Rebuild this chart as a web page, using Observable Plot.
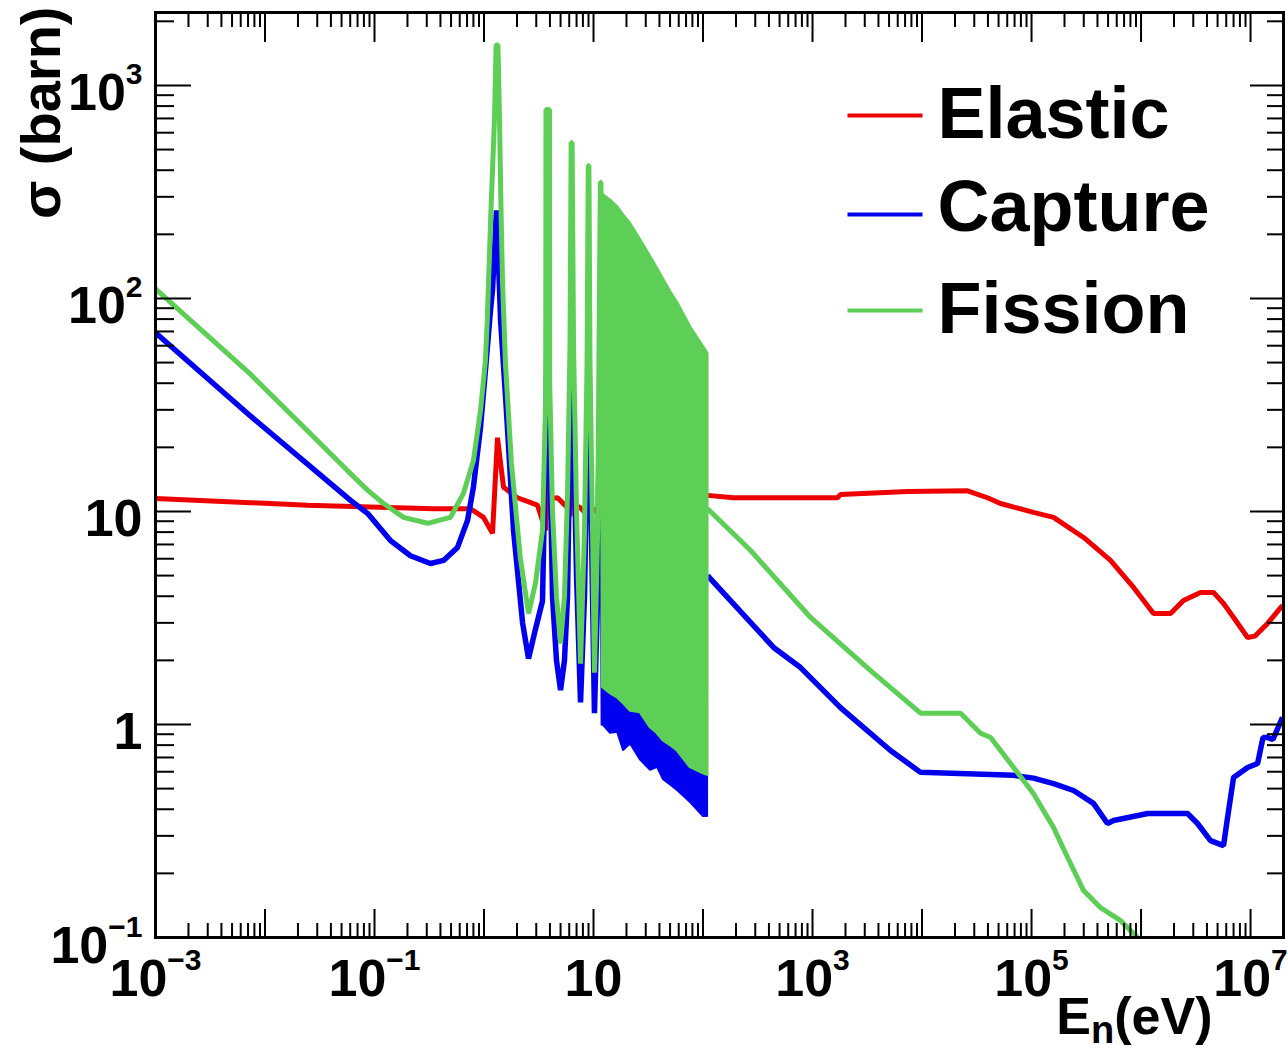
<!DOCTYPE html>
<html>
<head>
<meta charset="utf-8">
<script src="https://cdn.jsdelivr.net/npm/d3@7"></script>
<script src="https://cdn.jsdelivr.net/npm/@observablehq/plot@0.6"></script>
<style>
  html, body { margin: 0; padding: 0; background: #fff; }
  #chart svg { display: block; }
</style>
</head>
<body>
<div id="chart"></div>
<script>
// Neutron-induced cross sections versus incident energy (log–log).

const seriesNames = ["Elastic", "Capture", "Fission"];
const seriesColors = ["#ee0000", "#0000ee", "#5dcf56"];

// Elastic scattering
const elasticE = [0.001, 0.0244, 0.346, 0.753, 0.989, 1.196, 1.328, 1.507, 2.02, 3.08,
  3.65, 3.88, 4.1, 4.69, 5.79, 6.1, 6.3, 6.6, 7.6, 8.8, 9.0, 9.3, 11.3, 11.6, 12.0, 30, 110,
  190, 1690, 1800, 7380, 26000, 39600, 52100, 104000, 159000, 299000, 526000, 855000,
  1.30e6, 1.86e6, 2.44e6, 3.49e6, 4.59e6, 5.67e6, 7.0e6, 9.4e6, 1.1e7, 1.43e7, 1.96e7];
const elasticS = [11.5, 10.7, 10.3, 10.3, 9.38, 7.89, 22.2, 13.0, 11.6, 10.7,
  8.15, 20, 11.5, 11.6, 10.4, 9.5, 14, 10.8, 10.4, 9.6, 13, 10.5, 9.8, 14, 11, 11.5, 11.9,
  11.6, 11.6, 12.0, 12.4, 12.5, 11.6, 10.9, 9.9, 9.38, 7.55, 5.89, 4.40,
  3.32, 3.32, 3.82, 4.17, 4.17, 3.70, 3.18, 2.56, 2.6, 2.98, 3.62];

// Radiative capture (null marks the dense resonance comb, drawn as a band)
const captureE = [0.001, 0.0074, 0.060, 0.0863, 0.140, 0.213, 0.324, 0.427, 0.573, 0.707,
  0.80, 0.929, 1.03, 1.146, 1.196,
  1.30, 1.386, 1.415, 1.60, 1.86, 2.25, 2.55, 2.95, 3.42, 3.68, 3.80, 3.96, 4.22, 4.59,
  5.00, 5.43, 5.79, 6.10, 6.30, 6.57, 7.0, 7.61, 8.27, 8.73, 9.00, 9.29, 9.80, 10.2, 10.9,
  11.2, 11.6, 12.0, 12.3, 50,
  110, 441, 777, 1800, 5150, 9690, 68600, 104000, 159000, 242000, 368000, 494000, 561000,
  1.15e6, 2.66e6, 3.28e6, 4.31e6, 5.67e6, 6.17e6, 7.0e6, 9.4e6, 1.16e7, 1.3e7, 1.41e7,
  1.6e7, 1.96e7];
const captureS = [69, 28, 11.3, 9.8, 7.3, 6.2, 5.70, 5.89, 6.78, 9.08,
  13.0, 24.8, 45.9, 88, 110,
  259, 110, 80, 30, 8.15, 3.0, 2.04, 2.8, 3.8, 25, 120, 25, 4, 2.0,
  1.45, 2.0, 4, 25, 90, 25, 5, 1.27, 4, 20, 70, 20, 4, 1.13, 4,
  20, 55, 20, 0.99, null,
  5.0, 2.30, 1.85, 1.20, 0.755, 0.596, 0.577, 0.56, 0.528, 0.49, 0.426, 0.343, 0.354,
  0.382, 0.382, 0.343, 0.285, 0.270, 0.366, 0.564, 0.628, 0.656, 0.869, 0.869,
  0.85, 1.08];

// Fission
const fissionE = [0.001, 0.0074, 0.060, 0.0863, 0.121, 0.184, 0.305, 0.494, 0.650, 0.80,
  0.929, 1.03, 1.07, 1.157, 1.247,
  1.29, 1.34, 1.386, 1.43, 1.476, 1.57, 1.78, 2.15, 2.55, 2.95, 3.42, 3.66, 3.68, 3.96, 3.98,
  4.22, 4.59, 5.00, 5.43, 5.79, 6.10, 6.25, 6.38, 6.57, 7.0, 7.61, 8.27, 8.73, 8.95, 9.08,
  9.29, 9.80, 10.2, 10.9, 11.2, 11.55, 11.7, 12.0, 12.3, 50,
  110, 272, 959, 3390, 9690, 22500, 34200, 42300, 68600, 104000, 159000, 213000, 299000,
  427000, 650000, 930000];
const fissionS = [111, 44, 15.1, 12.6, 10.9, 9.38, 8.8, 9.38, 12.2, 17.3,
  29.8, 51, 78, 259, 700,
  1550, 1550, 700, 259, 120, 49.5, 16.8, 6.0, 3.32, 4.6, 8.15, 34, 771, 771, 40,
  10, 4.0, 2.40, 4.0, 12, 60, 540, 540, 60, 10, 1.93, 8, 50, 421, 421,
  50, 8, 1.75, 8, 50, 351, 351, 50, 1.49, null,
  10.3, 6.56, 3.18, 1.79, 1.13, 1.13, 0.91, 0.869, 0.628, 0.474, 0.328, 0.238, 0.166,
  0.138, 0.120, 0.100];

// Unresolved resonance comb, 12–110 eV: envelopes of the oscillating curves
const combE = [12.3, 14.3, 16.6, 18.8, 21.8, 26.9, 33.2, 38.4, 43.6, 50.5, 58.5, 76.9, 101, 110];
const combFissionHi = [305, 288, 268, 245, 223, 187, 156, 137, 122, 107, 95, 73, 59, 55];
const combFissionLo = [1.49, 1.40, 1.34, 1.26, 1.16, 1.14, 0.97, 0.91, 0.84, 0.80, 0.755, 0.63, 0.59, 0.58];
const combCaptureLo = [0.99, 0.91, 0.92, 0.755, 0.81, 0.68, 0.61, 0.63, 0.55, 0.52, 0.49, 0.43, 0.37, 0.37];

// Axis tick labels
const xLabelValues = [1e-3, 1e-1, 10, 1e3, 1e5, 1e7];
const xLabelText = ["10^{−3}", "10^{−1}", "10", "10^{3}", "10^{5}", "10^{7}"];
const yLabelValues = [0.1, 1, 10, 100, 1000];
const yLabelText = ["10^{−1}", "1", "10", "10^{2}", "10^{3}"];
const xTitle = "E_{n}(eV)";
const yTitle = "σ (barn)";

// Layout
const W = 1288, H = 1050;
const M = {top: 12, right: 5, bottom: 113, left: 155};
const FW = W - M.left - M.right;
const FH = H - M.top - M.bottom;
const FONT = "'Liberation Sans', Arial, Helvetica, sans-serif";

const rows = (E, S) => E.map((e, i) => ({E: e, s: S[i]}));
const comb = combE.map((e, i) => ({E: e, fHi: combFissionHi[i], fLo: combFissionLo[i], cLo: combCaptureLo[i]}));

const majorX = d3.range(-3, 8).map(p => Math.pow(10, p));
const minorX = d3.range(-3, 8).flatMap(p => d3.range(2, 10).map(k => k * Math.pow(10, p))).filter(v => v <= 2e7);
const majorY = d3.range(-1, 4).map(p => Math.pow(10, p));
const minorY = d3.range(-1, 4).flatMap(p => d3.range(2, 10).map(k => k * Math.pow(10, p))).filter(v => v <= 2200);

const lineOpts = {x: "E", y: "s", strokeWidth: 5, strokeLinejoin: "bevel", strokeLinecap: "butt"};
const tick = {stroke: "black", strokeWidth: 2};

const legendLineY = [115, 214, 310];
const legendBaseY = [137, 230, 332];

const svg = Plot.plot({
  width: W,
  height: H,
  marginTop: M.top,
  marginRight: M.right,
  marginBottom: M.bottom,
  marginLeft: M.left,
  style: {background: "white", fontFamily: FONT, fontWeight: "bold", color: "black"},
  x: {type: "log", domain: [1e-3, 2e7], axis: null},
  y: {type: "log", domain: [0.1, 2200], axis: null},
  marks: [
    Plot.line(rows(elasticE, elasticS), {...lineOpts, stroke: seriesColors[0]}),
    Plot.areaY(comb, {x: "E", y1: "cLo", y2: "fLo", fill: seriesColors[1], stroke: seriesColors[1], strokeWidth: 2}),
    Plot.line(rows(captureE, captureS), {...lineOpts, stroke: seriesColors[1], strokeWidth: 5.5}),
    Plot.areaY(comb, {x: "E", y1: "fLo", y2: "fHi", fill: seriesColors[2], stroke: seriesColors[2], strokeWidth: 3}),
    Plot.line(rows(fissionE, fissionS), {...lineOpts, stroke: seriesColors[2]}),

    // ticks drawn inside the frame on all four sides
    Plot.ruleX(majorX, {...tick, insetTop: FH - 28}),
    Plot.ruleX(minorX, {...tick, insetTop: FH - 14}),
    Plot.ruleX(majorX, {...tick, insetBottom: FH - 30}),
    Plot.ruleX(minorX, {...tick, insetBottom: FH - 15}),
    Plot.ruleY(majorY, {...tick, insetRight: FW - 36}),
    Plot.ruleY(minorY, {...tick, insetRight: FW - 19}),
    Plot.ruleY(majorY, {...tick, insetLeft: FW - 33}),
    Plot.ruleY(minorY, {...tick, insetLeft: FW - 16}),
    Plot.frame({stroke: "black", strokeWidth: 3}),

    // tick labels
    Plot.text(xLabelValues, {x: d => d, text: (d, i) => xLabelText[i], frameAnchor: "bottom",
      lineAnchor: "bottom", textAnchor: "middle", dy: 58, fontSize: 52, fontWeight: "bold"}),
    Plot.text(yLabelValues, {y: d => d, text: (d, i) => yLabelText[i], frameAnchor: "left",
      lineAnchor: "bottom", textAnchor: "end", dx: -13, dy: 25, fontSize: 52, fontWeight: "bold"}),

    // axis titles
    Plot.text([xTitle], {text: d => d, frameAnchor: "bottom-left", lineAnchor: "bottom", textAnchor: "end",
      dx: 1212 - M.left, dy: 96, fontSize: 52, fontWeight: "bold"}),
    Plot.text([yTitle], {text: d => d, frameAnchor: "top-left", lineAnchor: "bottom", textAnchor: "end",
      rotate: -90, dx: 59 - M.left, dy: -6, fontSize: 56, fontWeight: "bold"}),

    // legend
    ...seriesNames.flatMap((name, i) => [
      Plot.frame({fill: seriesColors[i], stroke: "none",
        insetLeft: 847 - M.left, insetRight: (W - M.right) - 922,
        insetTop: legendLineY[i] - 2 - M.top, insetBottom: (H - M.bottom) - (legendLineY[i] + 2)}),
      Plot.text([name], {text: d => d, frameAnchor: "top-left", lineAnchor: "bottom", textAnchor: "start",
        dx: 937 - M.left, dy: legendBaseY[i] - M.top, fontSize: 72, fontWeight: "bold"})
    ])
  ]
});

// Render "^{…}" as superscript and "_{…}" as subscript tspans.
function richText(el) {
  const raw = el.textContent;
  if (!/[\^_]\{/.test(raw)) return;
  const re = /([\^_])\{([^}]*)\}/g;
  el.textContent = "";
  const sel = d3.select(el);
  let last = 0, shift = 0, m;
  while ((m = re.exec(raw))) {
    if (m.index > last) {
      sel.append("tspan").attr("dy", -shift).text(raw.slice(last, m.index));
      shift = 0;
    }
    const sup = m[1] === "^";
    const d = sup ? -26 : 9;
    sel.append("tspan").attr("dy", d - shift).attr("font-size", sup ? 30 : 38).text(m[2]);
    shift = d;
    last = re.lastIndex;
  }
  if (last < raw.length) sel.append("tspan").attr("dy", -shift).text(raw.slice(last));
}
d3.select(svg).selectAll("text").each(function () { richText(this); });

document.getElementById("chart").appendChild(svg);
</script>
</body>
</html>
